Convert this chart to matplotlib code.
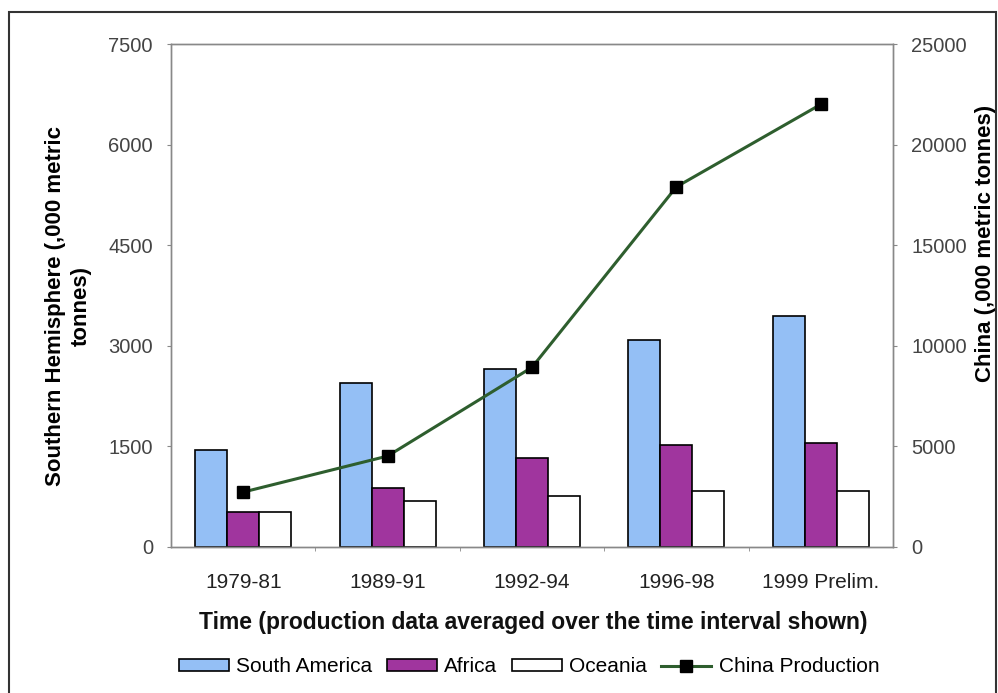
import matplotlib
matplotlib.use("Agg")
import matplotlib.pyplot as plt
from matplotlib.patches import Rectangle
import numpy as np

plt.rcParams['font.family'] = ['Liberation Sans', 'DejaVu Sans']

# data
periods = ["1979-81", "1989-91", "1992-94", "1996-98", "1999 Prelim."]
south_america = [1440, 2445, 2655, 3085, 3440]
africa = [528, 886, 1333, 1527, 1551]
oceania = [528, 686, 762, 835, 835]
china = [2730, 4520, 8930, 17900, 22000]

fig = plt.figure(figsize=(9.98, 6.93), dpi=100)
ax = fig.add_axes([171/998, 1 - 547/693, (893 - 171)/998, (547 - 44)/693])

x = np.arange(len(periods))
w = 0.222
ax.bar(x - w, south_america, w, color='#94bff5', edgecolor='black', linewidth=1.2,
       label='South America', zorder=2)
ax.bar(x, africa, w, color='#a0359e', edgecolor='black', linewidth=1.2,
       label='Africa', zorder=2)
ax.bar(x + w, oceania, w, color='white', edgecolor='black', linewidth=1.2,
       label='Oceania', zorder=2)

ax.set_xlim(-0.5, len(periods) - 0.5)
ax.set_ylim(0, 7500)
ax.set_yticks(np.arange(0, 7501, 1500))
ax.set_xticks(x)
ax.set_xticklabels(periods)
ax.set_xticks(np.arange(0.5, len(periods) - 0.5, 1), minor=True)
ax.tick_params(axis='x', which='major', length=0, pad=19, labelsize=15, colors='#222222')
ax.tick_params(axis='x', which='minor', length=3, color='#888888')
ax.tick_params(axis='y', length=3, color='#888888', labelsize=14.5, labelcolor='#444444', pad=10)
for s in ax.spines.values():
    s.set_color('#888888')
    s.set_linewidth(1.0)

ax2 = ax.twinx()
ax2.set_position(ax.get_position())
ax2.plot(x, china, color='#2e5e2e', linewidth=2.2, marker='s', markersize=8,
         markerfacecolor='black', markeredgecolor='black', label='China Production', zorder=3)
ax2.set_ylim(0, 25000)
ax2.set_yticks(np.arange(0, 25001, 5000))
ax2.tick_params(axis='y', length=3, color='#888888', labelsize=14.5, labelcolor='#444444', pad=10)
for s in ax2.spines.values():
    s.set_color('#888888')
    s.set_linewidth(1.0)

fig.text(68/998, 1 - 306/693, "Southern Hemisphere (,000 metric\ntonnes)", rotation=90,
         ha='center', va='center', fontsize=16, fontweight='bold', linespacing=1.3)
fig.text(985/998, 1 - 243/693, "China (,000 metric tonnes)", rotation=90,
         ha='center', va='center', fontsize=16, fontweight='bold')
fig.text(533/998, 1 - 623/693, "Time (production data averaged over the time interval shown)",
         ha='center', va='center', fontsize=16.5, fontweight='bold', color='#111111')

h1, l1 = ax.get_legend_handles_labels()
h2, l2 = ax2.get_legend_handles_labels()
fig.legend(h1 + h2, l1 + l2, loc='center', bbox_to_anchor=(529/998, 1 - 667/693), ncol=4,
           frameon=False, fontsize=15, handlelength=2.4, handleheight=0.45,
           columnspacing=0.7, handletextpad=0.35, borderaxespad=0)

fig.patches.append(Rectangle((9/998, -0.02), (996 - 9)/998, 1 - 12/693 + 0.02,
                             transform=fig.transFigure, fill=False,
                             edgecolor='#333333', linewidth=1.5))

fig.savefig("out.png", dpi=100)
